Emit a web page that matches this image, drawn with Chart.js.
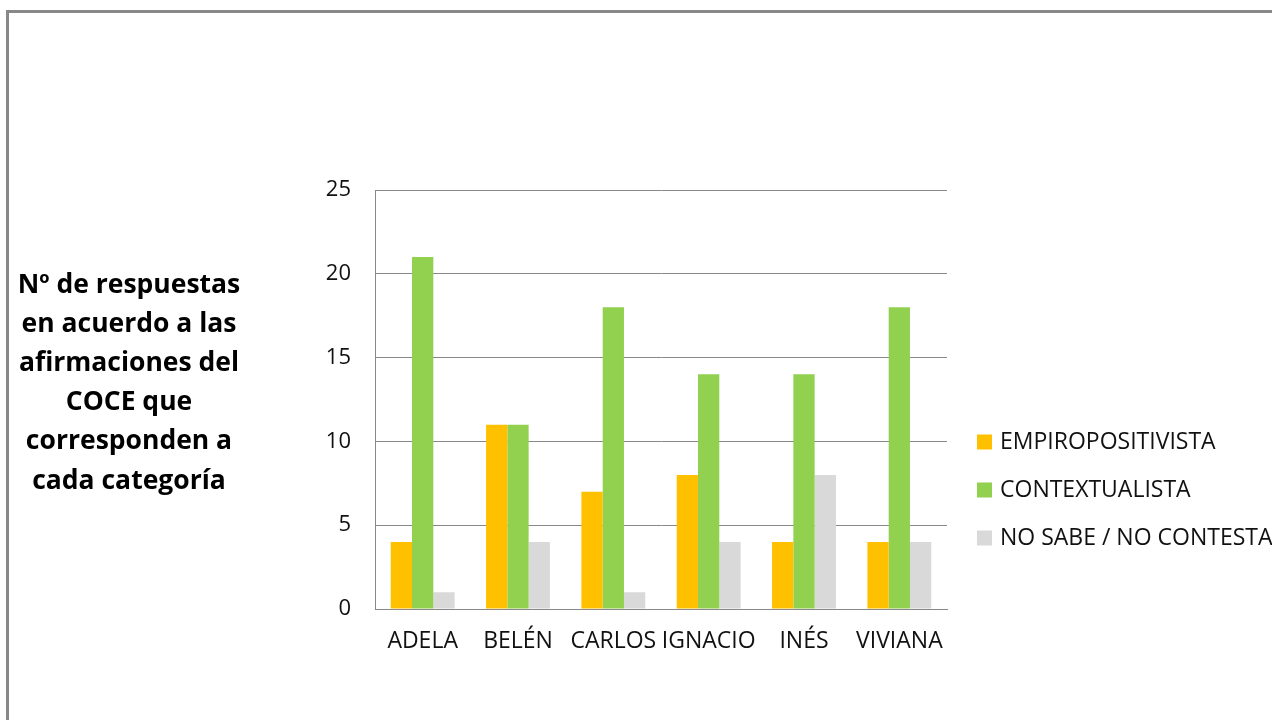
<!DOCTYPE html>
<html>
<head>
<meta charset="utf-8">
<script src="https://cdn.jsdelivr.net/npm/chart.js@4/dist/chart.umd.min.js"></script>
<style>
  html, body { margin: 0; padding: 0; background: #fff; overflow: hidden; }
  #wrap { position: relative; width: 1272px; height: 720px; }
  #frame {
    position: absolute; left: 6px; top: 10px; width: 1300px; height: 760px;
    border-left: 3px solid #888; border-top: 3px solid #888;
  }
  canvas { position: absolute; left: 0; top: 0; }
</style>
</head>
<body>
<div id="wrap">
  <div id="frame"></div>
  <canvas id="chart" width="1272" height="720"></canvas>
</div>
<script>
// categorías (alumnos) y respuestas por categoría
const alumnos = ['ADELA', 'BELÉN', 'CARLOS', 'IGNACIO', 'INÉS', 'VIVIANA'];
const empiropositivista = [4, 11, 7, 8, 4, 4];
const contextualista = [21, 11, 18, 14, 14, 18];
const noSabe = [1, 4, 1, 4, 8, 4];

const seriesNames = ['EMPIROPOSITIVISTA', 'CONTEXTUALISTA', 'NO SABE / NO CONTESTA'];
const seriesColors = ['#FFC000', '#92D050', '#D9D9D9'];

const yMin = 0, yMax = 25, yStep = 5;

const titleLines = [
  'Nº de respuestas',
  'en acuerdo a las',
  'afirmaciones del',
  'COCE que',
  'corresponden a',
  'cada categoría'
];

const FONT = "'Open Sans', sans-serif";
Chart.defaults.font.family = FONT;
Chart.defaults.color = '#111';

// título del eje Y, en horizontal a la izquierda
const sideTitle = {
  id: 'sideTitle',
  afterDraw(chart, args, opts) {
    const ctx = chart.ctx;
    ctx.save();
    ctx.font = `bold ${opts.size}px ${FONT}`;
    ctx.fillStyle = opts.color;
    ctx.textAlign = 'center';
    ctx.textBaseline = 'middle';
    opts.lines.forEach((t, i) => ctx.fillText(t, opts.x, opts.y + i * opts.lineHeight));
    ctx.restore();
  }
};

// leyenda a la derecha del área de trazado
const sideLegend = {
  id: 'sideLegend',
  afterDraw(chart, args, opts) {
    const ctx = chart.ctx;
    const area = chart.chartArea;
    const x = area.right + opts.offsetX;
    ctx.save();
    ctx.font = `${opts.size}px ${FONT}`;
    ctx.textBaseline = 'middle';
    ctx.textAlign = 'left';
    chart.data.datasets.forEach((ds, i) => {
      const y = opts.y + i * opts.spacing;
      ctx.fillStyle = ds.backgroundColor;
      ctx.fillRect(x, y - opts.box / 2, opts.box, opts.box);
      ctx.fillStyle = opts.color;
      ctx.fillText(ds.label, x + opts.box + opts.gap, y);
    });
    ctx.restore();
  }
};

const datasets = [empiropositivista, contextualista, noSabe].map((data, i) => ({
  label: seriesNames[i],
  data,
  backgroundColor: seriesColors[i],
  borderWidth: 0,
  categoryPercentage: 0.67,
  barPercentage: 1.0,
}));

new Chart(document.getElementById('chart'), {
  type: 'bar',
  data: { labels: alumnos, datasets },
  plugins: [sideTitle, sideLegend],
  options: {
    responsive: false,
    animation: false,
    devicePixelRatio: 1,
    layout: { padding: { left: 300, right: 325, top: 190, bottom: 50 } },
    plugins: {
      legend: { display: false },
      tooltip: { enabled: false },
      sideTitle: { lines: titleLines, x: 129, y: 285, lineHeight: 39.2, size: 26.5, color: '#000' },
      sideLegend: { offsetX: 30, y: 442, spacing: 48, box: 15, gap: 8, size: 23, color: '#111' },
    },
    scales: {
      x: {
        afterFit(scale) { scale.height = 61; },
        grid: { display: false, drawTicks: false },
        border: { display: true, color: '#888', width: 1 },
        ticks: { padding: 19, maxRotation: 0, autoSkip: false, font: { size: 23 }, color: '#111' },
      },
      y: {
        min: yMin,
        max: yMax,
        afterFit(scale) { scale.width = 75; },
        grid: { color: '#888', lineWidth: 1, drawTicks: false },
        border: { display: true, color: '#888', width: 1 },
        ticks: { stepSize: yStep, padding: 24, font: { size: 22 }, color: '#111' },
      },
    },
  },
});
</script>
</body>
</html>
